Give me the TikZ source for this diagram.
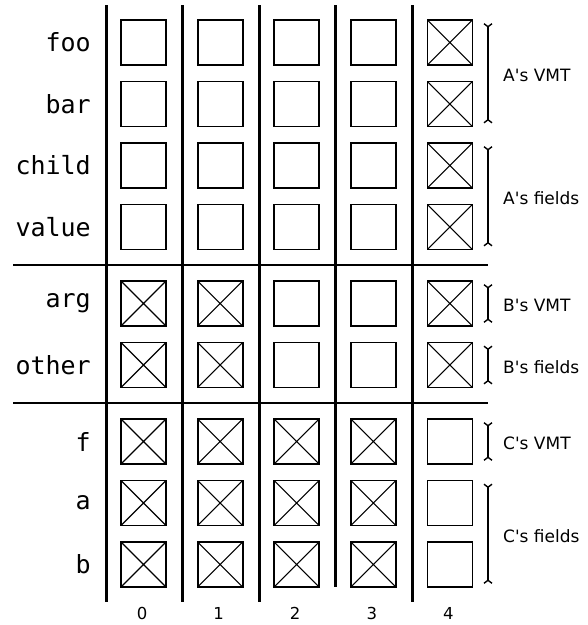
\documentclass[tikz,border=0pt]{standalone}
\usepackage{fontspec}
\setmainfont{DejaVu Sans}
\newfontfamily\slotfont{DejaVu Sans Mono}
\usetikzlibrary{arrows.meta}

\begin{document}
\begin{tikzpicture}[x=1pt,y=-1pt,
  slot/.style={draw, line width=1.8pt, minimum size=45pt, inner sep=0pt, outer sep=0pt},
  xline/.style={line width=1.1pt},
  divider/.style={line width=3pt},
  rowsep/.style={line width=1.4pt},
  extent/.style={line width=1.4pt,
    {Straight Barb[reversed,length=3pt,width=8pt]}-{Straight Barb[reversed,length=3pt,width=8pt]}},
  fieldname/.style={font=\slotfont\fontsize{25}{30}\selectfont, anchor=east, inner sep=0pt},
  spanlabel/.style={font=\fontsize{17}{20}\selectfont, anchor=west, inner sep=0pt},
  idx/.style={font=\fontsize{16.5}{20}\selectfont, inner sep=0pt}]
\useasboundingbox (0,0) rectangle (588,625);

% slot rows: field names and one slot per column
\foreach \r/\y/\lbl in {1/42.5/foo, 2/104/bar, 3/165.5/child, 4/227/value,
                        5/303.5/arg, 6/365/other,
                        7/441.5/f, 8/503/a, 9/564.5/b} {
  \node[fieldname] (lbl-\r) at (91,\y) {\lbl};
  \foreach \c in {0,...,4}
    \node[slot] (s-\r-\c) at ({143.5+76.6*\c},\y) {};
}

% slots that are unused
\foreach \r/\c in {1/4, 2/4, 3/4, 4/4,
                   5/0, 5/1, 5/4, 6/0, 6/1, 6/4,
                   7/0, 7/1, 7/2, 7/3, 8/0, 8/1, 8/2, 8/3, 9/0, 9/1, 9/2, 9/3}
  \draw[xline] (s-\r-\c.north west) -- (s-\r-\c.south east)
               (s-\r-\c.north east) -- (s-\r-\c.south west);

% column dividers
\foreach \i/\b in {0/602, 1/602, 2/602, 3/587, 4/602} {
  \coordinate (d\i-top) at ({106+76.5*\i},5);
  \coordinate (d\i-bot) at ({106+76.5*\i},\b);
  \draw[divider] (d\i-top) -- (d\i-bot);
}

% class separators
\foreach \k/\y in {1/265, 2/403} {
  \coordinate (h\k-l) at (13,\y);
  \coordinate (h\k-r) at (488,\y);
  \draw[rowsep] (h\k-l) -- (h\k-r);
}

% column indices
\foreach \c in {0,...,4}
  \node[idx] (col-\c) at ({142+76.6*\c},613) {\c};

% extents of each part
\foreach \g/\ya/\yb/\txt in {avmt/42.5/104/A\textquotesingle s VMT,
                             afld/165.5/227/A\textquotesingle s fields,
                             bvmt/303.5/303.5/B\textquotesingle s VMT,
                             bfld/365/365/B\textquotesingle s fields,
                             cvmt/441.5/441.5/C\textquotesingle s VMT,
                             cfld/503/564.5/C\textquotesingle s fields} {
  \coordinate (\g-top) at (488,\ya-19.5);
  \coordinate (\g-bot) at (488,\yb+19.5);
  \draw[extent] (\g-top) -- (\g-bot);
  \node[spanlabel] (\g-lbl) at (503,{(\ya+\yb)/2+2}) {\txt};
}
\end{tikzpicture}
\end{document}
